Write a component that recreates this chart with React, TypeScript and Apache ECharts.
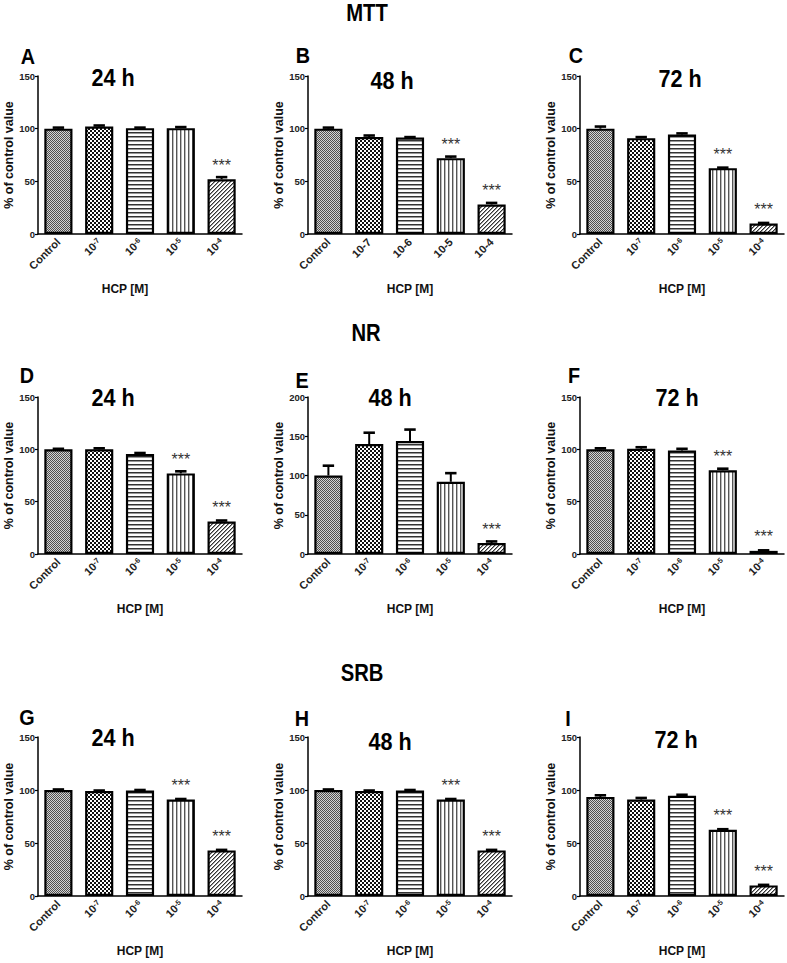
import React, { useEffect, useRef } from 'react';
import * as echarts from 'echarts';

// ---------- data ----------
const assays = ['MTT', 'NR', 'SRB'];
const panelLetters = ['A', 'B', 'C', 'D', 'E', 'F', 'G', 'H', 'I'];
const timeTitles = ['24 h', '48 h', '72 h'];
const dosesSup = ['Control', '10⁻⁷', '10⁻⁶', '10⁻⁵', '10⁻⁴'];
const dosesDash = ['Control', '10-7', '10-6', '10-5', '10-4'];
const xAxisName = 'HCP [M]';
const yAxisName = '% of control value';
const yTicks150 = [0, 50, 100, 150];
const yTicks200 = [0, 50, 100, 150, 200];

const mtt24 = [100, 102, 100.5, 100.5, 52];
const mtt24Err = [1, 1, 0.5, 1, 2];
const mtt24Sig = ['', '', '', '', '***'];

const mtt48 = [100, 92, 91.5, 72, 28];
const mtt48Err = [1, 1.5, 0.5, 1.5, 1.5];
const mtt48Sig = ['', '', '', '***', '***'];

const mtt72 = [100, 91, 94.5, 62.5, 10];
const mtt72Err = [2, 1, 1, 0.5, 0.5];
const mtt72Sig = ['', '', '', '***', '***'];

const nr24 = [100, 100, 95.5, 77, 31];
const nr24Err = [0.5, 1, 1, 2, 1];
const nr24Sig = ['', '', '', '***', '***'];

const nr48 = [100, 140, 144, 92, 14];
const nr48Err = [12.5, 14.5, 14.5, 11, 2];
const nr48Sig = ['', '', '', '', '***'];

const nr72 = [100, 100.5, 99, 80, 3];
const nr72Err = [1, 1.5, 1.5, 1.5, 0.5];
const nr72Sig = ['', '', '', '***', '***'];

const srb24 = [100, 99, 99.5, 91, 43];
const srb24Err = [0.5, 0.5, 0.5, 0.5, 0.5];
const srb24Sig = ['', '', '', '***', '***'];

const srb48 = [100, 99, 99.5, 91, 43];
const srb48Err = [0.5, 0.5, 0.5, 0.5, 0.5];
const srb48Sig = ['', '', '', '***', '***'];

const srb72 = [93.5, 91, 94.5, 62.5, 10];
const srb72Err = [1.5, 1.5, 1, 0.5, 0.5];
const srb72Sig = ['', '', '', '***', '***'];

// ---------- layout ----------
const FONT = 'Liberation Sans, Arial, sans-serif';
const colLefts = [38, 308, 580];
const rowTops = [76, 397, 737];
const rowHeights = [158, 157, 159];
const gridWidth = 204;

const letterPos = [
  [28, 56], [303, 55], [576, 55],
  [27, 375], [302, 380], [574, 375],
  [27, 717], [302, 718], [568, 718],
];
const titlePos = [
  [113, 78], [392, 81], [680, 79],
  [113, 398], [390, 398], [677, 398],
  [113, 738], [390, 742], [676, 740],
];
const headingPos = [[367, 13], [366, 333], [362, 673]];

type Panel = { cats: string[]; vals: number[]; errs: number[]; sig: string[]; ticks: number[] };
const panels: Panel[] = [
  { cats: dosesSup, vals: mtt24, errs: mtt24Err, sig: mtt24Sig, ticks: yTicks150 },
  { cats: dosesDash, vals: mtt48, errs: mtt48Err, sig: mtt48Sig, ticks: yTicks150 },
  { cats: dosesSup, vals: mtt72, errs: mtt72Err, sig: mtt72Sig, ticks: yTicks150 },
  { cats: dosesSup, vals: nr24, errs: nr24Err, sig: nr24Sig, ticks: yTicks150 },
  { cats: dosesSup, vals: nr48, errs: nr48Err, sig: nr48Sig, ticks: yTicks200 },
  { cats: dosesSup, vals: nr72, errs: nr72Err, sig: nr72Sig, ticks: yTicks150 },
  { cats: dosesSup, vals: srb24, errs: srb24Err, sig: srb24Sig, ticks: yTicks150 },
  { cats: dosesSup, vals: srb48, errs: srb48Err, sig: srb48Sig, ticks: yTicks150 },
  { cats: dosesSup, vals: srb72, errs: srb72Err, sig: srb72Sig, ticks: yTicks150 },
];

const supMap: Record<string, string> = {
  '⁻': '-', '⁰': '0', '¹': '1', '²': '2', '³': '3', '⁴': '4', '⁵': '5', '⁶': '6', '⁷': '7', '⁸': '8', '⁹': '9',
};

function labelFormatter(v: string) {
  let base = '';
  let sup = '';
  for (const ch of v) {
    if (supMap[ch] !== undefined) sup += supMap[ch];
    else base += ch;
  }
  return sup ? `{b|${base}}{s|${sup}}` : `{b|${base}}`;
}

function makePattern(w: number, h: number, draw: (ctx: CanvasRenderingContext2D) => void) {
  const c = document.createElement('canvas');
  c.width = w;
  c.height = h;
  const ctx = c.getContext('2d') as CanvasRenderingContext2D;
  ctx.fillStyle = '#fff';
  ctx.fillRect(0, 0, w, h);
  draw(ctx);
  return { image: c.toDataURL(), repeat: 'repeat', imageWidth: w, imageHeight: h };
}

function px(ctx: CanvasRenderingContext2D, x: number, y: number, c: string) {
  ctx.fillStyle = c;
  ctx.fillRect(x, y, 1, 1);
}

function buildPatterns() {
  const fine = makePattern(2, 2, (ctx) => {
    px(ctx, 0, 0, '#505050');
    px(ctx, 1, 1, '#505050');
    px(ctx, 1, 0, '#d4d4d4');
    px(ctx, 0, 1, '#d4d4d4');
  });
  const checker = makePattern(4, 4, (ctx) => {
    ctx.fillStyle = '#111';
    ctx.fillRect(0, 0, 2, 2);
    ctx.fillRect(2, 2, 2, 2);
  });
  const horiz = makePattern(4, 4, (ctx) => {
    ctx.fillStyle = '#333';
    ctx.fillRect(0, 0, 4, 1);
    ctx.fillStyle = '#999';
    ctx.fillRect(0, 1, 4, 1);
  });
  const vert = makePattern(4, 4, (ctx) => {
    ctx.fillStyle = '#555';
    ctx.fillRect(0, 0, 1, 4);
    ctx.fillStyle = '#bbb';
    ctx.fillRect(1, 0, 1, 4);
  });
  const diag = makePattern(4, 4, (ctx) => {
    for (let i = 0; i < 4; i++) {
      px(ctx, 3 - i, i, '#333');
      px(ctx, (4 - i) % 4, i, '#999');
    }
  });
  return [fine, checker, horiz, vert, diag];
}

export default function App() {
  const ref = useRef<HTMLDivElement>(null);
  useEffect(() => {
    document.body.style.margin = '0';
    if (!ref.current) return;
    const chart = echarts.init(ref.current, null, { renderer: 'svg' });
    const patterns = buildPatterns();

    const grids: any[] = [];
    const xAxes: any[] = [];
    const yAxes: any[] = [];
    const series: any[] = [];
    const graphics: any[] = [];

    panels.forEach((p, k) => {
      const row = Math.floor(k / 3);
      const col = k % 3;
      grids.push({
        left: colLefts[col],
        top: rowTops[row],
        width: gridWidth,
        height: rowHeights[row],
        containLabel: false,
      });
      xAxes.push({
        type: 'category',
        gridIndex: k,
        data: p.cats,
        axisLine: { lineStyle: { color: '#000', width: 1.5 } },
        axisTick: { alignWithLabel: true, length: 4, lineStyle: { color: '#000', width: 1.2 } },
        axisLabel: {
          rotate: 45,
          interval: 0,
          color: '#222',
          margin: 6,
          fontFamily: FONT,
          formatter: labelFormatter,
          rich: {
            b: { fontSize: 11, fontWeight: 'bold', color: '#222', fontFamily: FONT },
            s: { fontSize: 7.5, fontWeight: 'bold', color: '#222', fontFamily: FONT, verticalAlign: 'top' },
          },
        },
        name: xAxisName,
        nameLocation: 'middle',
        nameGap: 49,
        nameTextStyle: {
          fontSize: 12,
          fontWeight: 'bold',
          color: '#111',
          fontFamily: FONT,
          padding: k === 0 ? [0, 30, 0, 0] : 0,
        },
      });
      const yMax = p.ticks[p.ticks.length - 1];
      yAxes.push({
        type: 'value',
        gridIndex: k,
        min: p.ticks[0],
        max: yMax,
        interval: p.ticks[1] - p.ticks[0],
        axisLine: { show: true, lineStyle: { color: '#000', width: 1.5 } },
        axisTick: { show: true, length: 3, lineStyle: { color: '#000', width: 1.2 } },
        splitLine: { show: false },
        axisLabel: { fontSize: 9.5, fontWeight: 'bold', color: '#222', margin: 3, fontFamily: FONT },
        name: yAxisName,
        nameLocation: 'middle',
        nameGap: 22,
        nameTextStyle: { fontSize: 12.5, fontWeight: 'bold', color: '#111', fontFamily: FONT },
      });
      series.push({
        type: 'bar',
        xAxisIndex: k,
        yAxisIndex: k,
        barWidth: '69%',
        z: 2,
        data: p.vals.map((v, i) => ({
          value: v,
          itemStyle: { color: patterns[i], borderColor: '#000', borderWidth: 2.2 },
          label: p.sig[i]
            ? {
                show: true,
                position: 'top',
                distance: 6,
                formatter: p.sig[i],
                fontSize: 16,
                color: '#333',
                fontFamily: FONT,
              }
            : { show: false },
        })),
      });
      series.push({
        type: 'custom',
        xAxisIndex: k,
        yAxisIndex: k,
        z: 5,
        data: p.vals.map((v, i) => [i, v, p.errs[i]]),
        renderItem: (params: any, api: any) => {
          const x = api.value(0);
          const v = api.value(1);
          const e = api.value(2);
          const p0 = api.coord([x, v]);
          const p1 = api.coord([x, v + e]);
          const half = api.size([1, 0])[0] * 0.14;
          return {
            type: 'group',
            children: [
              {
                type: 'line',
                shape: { x1: p0[0], y1: p0[1], x2: p1[0], y2: p1[1] },
                style: { stroke: '#000', lineWidth: 2 },
              },
              {
                type: 'line',
                shape: { x1: p1[0] - half, y1: p1[1], x2: p1[0] + half, y2: p1[1] },
                style: { stroke: '#000', lineWidth: 2.6 },
              },
            ],
          };
        },
      });
      graphics.push({
        type: 'text',
        x: letterPos[k][0],
        y: letterPos[k][1],
        scaleX: 0.9,
        style: {
          text: panelLetters[k],
          fontSize: 22,
          fontWeight: 'bold',
          fill: '#000',
          fontFamily: FONT,
          align: 'center',
          verticalAlign: 'middle',
        },
      });
      graphics.push({
        type: 'text',
        x: titlePos[k][0],
        y: titlePos[k][1],
        scaleX: 0.9,
        style: {
          text: timeTitles[col],
          fontSize: 24,
          fontWeight: 'bold',
          fill: '#000',
          fontFamily: FONT,
          align: 'center',
          verticalAlign: 'middle',
        },
      });
    });

    assays.forEach((a, r) => {
      graphics.push({
        type: 'text',
        x: headingPos[r][0],
        y: headingPos[r][1],
        scaleX: 0.88,
        style: {
          text: a,
          fontSize: 23,
          fontWeight: 'bold',
          fill: '#000',
          fontFamily: FONT,
          align: 'center',
          verticalAlign: 'middle',
        },
      });
    });

    chart.setOption({
      animation: false,
      backgroundColor: '#fff',
      grid: grids,
      xAxis: xAxes,
      yAxis: yAxes,
      series,
      graphic: graphics,
    });
    return () => chart.dispose();
  }, []);

  return (
    <div
      ref={ref}
      style={{ position: 'absolute', left: 0, top: 0, width: 787, height: 963, background: '#fff' }}
    />
  );
}
